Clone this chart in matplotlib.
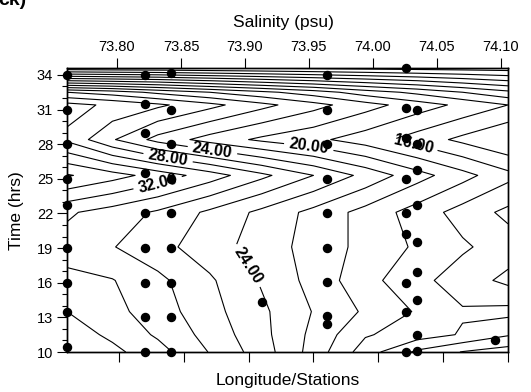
import numpy as np
import matplotlib
matplotlib.use("Agg")
import matplotlib.pyplot as plt
from matplotlib.ticker import MultipleLocator

plt.rcParams['font.family'] = ['Liberation Sans', 'DejaVu Sans']

# Gridded field: columns along the station axis, rows in time (hrs)
grid_x = [0.2, 0.9, 1.6, 2.4, 3.2, 4.0, 4.8, 5.6, 6.3, 7.0]
grid_t = [10.0, 11.5, 13.5, 16.2, 19.1, 22.1, 25.3, 28.4, 31.4, 32.5, 33.5, 34.6]
grid_z = [
    [33.7, 32.5, 30.8, 27.9, 25.0, 21.2, 17.0, 13.6, 11.9, 11.0],
    [33.0, 31.6, 29.7, 27.3, 24.6, 21.5, 18.2, 17.0, 15.8, 14.2],
    [32.0, 30.6, 29.0, 26.7, 24.4, 21.9, 19.7, 17.8, 16.2, 16.6],
    [30.5, 30.1, 28.5, 26.3, 23.8, 21.3, 18.7, 16.6, 15.0, 13.5],
    [29.2, 28.1, 26.7, 24.9, 23.1, 21.2, 19.4, 17.7, 16.3, 15.0],
    [30.3, 29.1, 27.7, 25.6, 23.5, 21.4, 19.3, 17.1, 15.2, 13.5],
    [36.2, 34.8, 33.2, 31.0, 28.5, 26.0, 23.4, 20.8, 18.7, 16.6],
    [29.6, 26.2, 23.3, 21.2, 19.6, 18.5, 17.0, 15.1, 13.5, 12.0],
    [30.7, 29.6, 28.4, 26.6, 24.6, 22.7, 20.8, 19.0, 17.5, 16.0],
    [26.0, 25.0, 23.5, 22.0, 20.5, 19.0, 17.0, 15.5, 14.0, 12.5],
    [16.0, 15.5, 15.0, 14.0, 13.0, 12.0, 11.0, 10.0, 9.0, 8.0],
    [4.5, 4.3, 4.2, 4.0, 3.8, 3.6, 3.4, 3.2, 3.1, 3.0],
]
labelled_levels = [16, 20, 24, 28, 32]
plain_levels = [4, 6, 8, 10, 12, 14, 18, 22, 26, 30, 34, 36]
label_spots = [(1.63, 23.95), (1.76, 26.9), (2.45, 27.76),
               (3.93, 27.85), (5.53, 27.76), (2.97, 17.45)]

# Sampling stations and the times sampled at each
station_x = [0.2, 1.4, 1.8, 3.21, 4.21, 5.43, 5.6, 6.8]
station_times = [
    [34.0, 31.0, 28.0, 25.0, 22.7, 19.0, 16.0, 13.5, 10.4],
    [34.0, 31.5, 29.0, 25.5, 22.0, 19.0, 16.0, 13.0, 10.0],
    [34.2, 31.0, 28.0, 25.0, 22.0, 19.0, 16.0, 13.0, 10.0],
    [14.3],
    [34.0, 31.0, 28.0, 25.0, 22.0, 19.0, 16.1, 13.1, 12.4],
    [34.6, 31.1, 28.5, 25.0, 22.0, 20.2, 16.0, 13.5, 10.0],
    [31.0, 28.0, 25.8, 22.7, 19.5, 16.9, 14.5, 11.5, 10.1],
    [11.0],
]

time_ticks = list(range(10, 35, 3))
station_ticks = [1, 2, 3, 4, 5, 6, 7]
salinity_ticks = [73.80, 73.85, 73.90, 73.95, 74.00, 74.05, 74.10]
salinity_range = (73.7609, 74.1055)

W, H = 531, 392
fig = plt.figure(figsize=(W / 100, H / 100), dpi=100)
ax = fig.add_axes([67 / W, 1 - 352 / H, (508 - 67) / W, (352 - 68) / H])

z = np.array(grid_z)
ax.contour(grid_x, grid_t, z, levels=plain_levels,
           colors='black', linewidths=0.8)
cs = ax.contour(grid_x, grid_t, z, levels=labelled_levels,
                colors='black', linewidths=0.8)
texts = ax.clabel(cs, manual=label_spots, fmt='%.2f', fontsize=11.5,
                  inline=True, inline_spacing=5)
for t in texts:
    t.set_fontweight('bold')

for x, times in zip(station_x, station_times):
    ax.plot([x] * len(times), times, 'o', color='black', markersize=5.8,
            clip_on=False, zorder=6)

ax.set_xlim(0.2, 7.0)
ax.set_ylim(10, 34.6)
ax.set_yticks(time_ticks)
ax.yaxis.set_minor_locator(MultipleLocator(1))
ax.set_xticks(station_ticks)
ax.set_xticklabels([])
ax.tick_params(axis='both', which='major', direction='out', length=7,
               width=0.8, labelsize=10.5, pad=3, top=False, right=False)
ax.tick_params(axis='y', which='minor', direction='out', length=3.5,
               width=0.8, right=False)
for sp in ax.spines.values():
    sp.set_linewidth(1.0)

ax2 = ax.twiny()
ax2.set_xlim(*salinity_range)
ax2.set_xticks(salinity_ticks)
ax2.set_xticklabels([f"{v:.2f}" for v in salinity_ticks])
ax2.tick_params(axis='x', which='major', direction='out', length=7,
                width=0.8, labelsize=10.5, pad=3)
for sp in ax2.spines.values():
    sp.set_linewidth(1.0)

fig.text(283 / W, 1 - 23 / H, "Salinity (psu)", ha='center', va='center',
         fontsize=12.5)
fig.text(288 / W, 1 - 380 / H, "Longitude/Stations", ha='center',
         va='center', fontsize=12.5)
fig.text(17 / W, 1 - 211 / H, "Time (hrs)", ha='center', va='center',
         rotation=90, fontsize=12.5)
fig.text(-2 / W, 1 - 5 / H, "ck)", ha='left', va='baseline', fontsize=14,
         fontweight='bold')

fig.savefig("out.png", dpi=100)
